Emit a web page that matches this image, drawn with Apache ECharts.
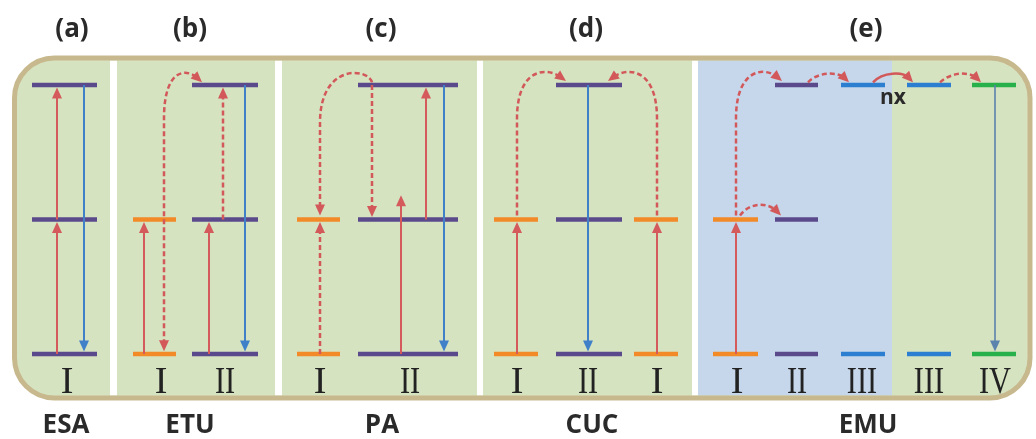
<!DOCTYPE html>
<html><head><meta charset="utf-8">
<script src="https://cdn.jsdelivr.net/npm/echarts@6/dist/echarts.min.js"></script>
<style>html,body{margin:0;padding:0;background:#fff}#c{width:1036px;height:439px}</style>
</head><body><div id="c"></div>
<script>
// ---------------- data ----------------
const panelTitles = ['(a)', '(b)', '(c)', '(d)', '(e)'];
const panelCenters = [72, 190, 381, 586, 866];
const mechanisms = ['ESA', 'ETU', 'PA', 'CUC', 'EMU'];
const mechanismCenters = [66, 190, 382, 592, 868];
const ionLabels = ['I', 'I', 'II', 'I', 'II', 'I', 'II', 'I', 'I', 'II', 'III', 'III', 'IV'];
const ionCenters = [67, 161, 225, 320, 410, 517, 588, 657, 737, 797, 862, 929, 995];
// energy levels: [xStart, xEnd, energy, species]
const levels = [
  [32, 97, 0, 'P'], [32, 97, 1, 'P'], [32, 97, 2, 'P'],
  [133, 176, 0, 'O'], [133, 176, 1, 'O'], [192, 258, 0, 'P'], [192, 258, 1, 'P'], [192, 258, 2, 'P'],
  [297, 340, 0, 'O'], [297, 340, 1, 'O'], [358, 458, 0, 'P'], [358, 458, 1, 'P'], [358, 458, 2, 'P'],
  [494, 538, 0, 'O'], [494, 538, 1, 'O'], [556, 622, 0, 'P'], [556, 622, 1, 'P'], [556, 622, 2, 'P'],
  [634, 678, 0, 'O'], [634, 678, 1, 'O'],
  [713, 758, 0, 'O'], [713, 758, 1, 'O'], [775, 818, 0, 'P'], [775, 818, 1, 'P'], [775, 818, 2, 'P'],
  [841, 885, 0, 'B'], [841, 885, 2, 'B'], [907, 951, 0, 'B'], [907, 951, 2, 'B'],
  [972, 1016, 0, 'G'], [972, 1016, 2, 'G']
];
// vertical transitions: [x, fromEnergy, toEnergy, kind]
const transitions = [
  [57, 0, 1, 'abs'], [57, 1, 2, 'abs'], [84, 2, 0, 'em'],
  [144, 0, 1, 'abs'], [209, 0, 1, 'abs'], [223, 1, 2, 'et'], [245, 2, 0, 'em'],
  [320, 0, 1, 'et'], [372, 2, 1, 'et'], [401, 0, 1.2, 'abs'], [426, 1, 2, 'abs'], [444, 2, 0, 'em'],
  [517, 0, 1, 'abs'], [657, 0, 1, 'abs'], [588, 2, 0, 'em'],
  [736, 0, 1, 'abs'], [995, 2, 0, 'em2']
];
// curved energy transfers: [kind, arrowAtStart, points(start, lineTo, ctrl1, ctrl2, curveEnd, lineEnd)]
const transfers = [
  ['et', true, [[164, 0.02], [164, 1.75], [164, 2.12], [186, 2.13], [202, 2.02], [202, 2.02]]],
  ['et', false, [[372, 2.02], [372, 2.02], [368, 2.13], [320, 2.16], [320, 1.72], [320, 1.03]]],
  ['et', false, [[517, 1.03], [517, 1.75], [517, 2.12], [546, 2.14], [566, 2.03], [566, 2.03]]],
  ['et', false, [[657, 1.03], [657, 1.75], [657, 2.12], [628, 2.14], [608, 2.03], [608, 2.03]]],
  ['et', false, [[736, 1.03], [736, 1.75], [736, 2.12], [764, 2.14], [782, 2.03], [782, 2.03]]],
  ['et', false, [[740, 1.03], [740, 1.03], [750, 1.13], [768, 1.13], [781, 1.03], [781, 1.03]]],
  ['et', false, [[808, 2.02], [808, 2.02], [818, 2.1], [838, 2.1], [849, 2.02], [849, 2.02]]],
  ['tr', false, [[873, 2.02], [873, 2.02], [883, 2.1], [903, 2.1], [913, 2.02], [913, 2.02]]],
  ['et', false, [[940, 2.02], [940, 2.02], [952, 2.1], [970, 2.1], [981, 2.02], [981, 2.02]]]
];
const annotations = [['nx', 893, 1.9]];

// ---------------- layout / style ----------------
const TITLE_E = 2.41, ION_E = -0.215, MECH_E = -0.53;
const levelColors = { P: '#5a4a8c', O: '#f28a28', B: '#2c7fd0', G: '#28b04a' };
const kindStyle = {
  abs: { c: '#d45a5c', w: 2, dash: null },
  em: { c: '#3f80c9', w: 2, dash: null },
  em2: { c: '#5b83ad', w: 1.6, dash: null },
  et: { c: '#d2585a', w: 2.5, dash: [5, 3] },
  tr: { c: '#d2585a', w: 2.5, dash: null }
};
const HEAD_L = 11, HEAD_W = 5;

function head(tip, dir, color) {
  const bx = tip[0] - dir[0] * HEAD_L, by = tip[1] - dir[1] * HEAD_L;
  const nx = -dir[1], ny = dir[0];
  return { type: 'polygon', shape: { points: [tip, [bx + nx * HEAD_W, by + ny * HEAD_W], [bx - nx * HEAD_W, by - ny * HEAD_W]] }, style: { fill: color } };
}
function unit(a, b) { const dx = b[0] - a[0], dy = b[1] - a[1]; const d = Math.hypot(dx, dy) || 1; return [dx / d, dy / d]; }

function renderLevel(params, api) {
  const l = levels[params.dataIndex];
  const a = api.coord([l[0], l[2]]), b = api.coord([l[1], l[2]]);
  return { type: 'rect', shape: { x: a[0], y: a[1] - 2.2, width: b[0] - a[0], height: 4.4 }, style: { fill: levelColors[l[3]] } };
}
function renderTransition(params, api) {
  const t = transitions[params.dataIndex];
  const s = kindStyle[t[3]];
  const p0 = api.coord([t[0], t[1]]), p1 = api.coord([t[0], t[2]]);
  const dy = Math.sign(p1[1] - p0[1]);
  const tip = [p1[0], p1[1] - dy * 2.6];
  const le = [tip[0], tip[1] - dy * 7];
  return { type: 'group', children: [
    { type: 'line', shape: { x1: p0[0], y1: p0[1], x2: le[0], y2: le[1] }, style: { stroke: s.c, lineWidth: s.w, lineDash: s.dash } },
    head(tip, [0, dy], s.c)
  ] };
}
function renderTransfer(params, api) {
  const t = transfers[params.dataIndex];
  const s = kindStyle[t[0]];
  const p = t[2].map(q => api.coord(q));
  const children = [];
  let start = p[0].slice(), endCurve = p[4].slice(), endLine = p[5].slice();
  if (t[1]) {
    const d = unit(p[1], p[0]);
    children.push(head(p[0], d, s.c));
    start = [p[0][0] - d[0] * 7, p[0][1] - d[1] * 7];
  }
  const straightEnd = Math.hypot(p[5][0] - p[4][0], p[5][1] - p[4][1]) > 0.5;
  let d;
  if (straightEnd) {
    d = unit(p[4], p[5]);
    endLine = [p[5][0] - d[0] * 7, p[5][1] - d[1] * 7];
    children.push(head(p[5], d, s.c));
  } else {
    d = unit(p[3], p[4]);
    endCurve = [p[4][0] - d[0] * 6, p[4][1] - d[1] * 6];
    endLine = endCurve;
    children.push(head(p[4], d, s.c));
  }
  const f = v => v[0].toFixed(2) + ' ' + v[1].toFixed(2);
  const pathData = 'M' + f(start) + ' L' + f(p[1]) + ' C' + f(p[2]) + ' ' + f(p[3]) + ' ' + f(endCurve) + ' L' + f(endLine);
  children.unshift({ type: 'path', shape: { pathData: pathData }, style: { stroke: s.c, lineWidth: s.w, lineDash: s.dash, fill: null } });
  return { type: 'group', children: children };
}
function textItem(pos, text, font, extra) {
  return Object.assign({ type: 'text', x: pos[0], y: pos[1], style: Object.assign({ text: text, fill: '#2a2a2a', align: 'center', verticalAlign: 'middle' }, font) }, extra || {});
}
function renderTitle(params, api) {
  const i = params.dataIndex;
  return textItem(api.coord([panelCenters[i], TITLE_E]), panelTitles[i], { fontFamily: 'Open Sans', fontWeight: 'bold', fontSize: 26 });
}
function renderMech(params, api) {
  const i = params.dataIndex;
  return textItem(api.coord([mechanismCenters[i], MECH_E]), mechanisms[i], { fontFamily: 'Open Sans', fontWeight: 'bold', fontSize: 26 });
}
function renderIon(params, api) {
  const i = params.dataIndex;
  const pos = api.coord([ionCenters[i], ION_E]);
  const sx = ionLabels[i].length > 1 ? 0.8 : 1;
  return textItem(pos, ionLabels[i], { fontFamily: 'Liberation Serif', fontSize: 38, fill: '#222222' }, { scaleX: sx, originX: 0, originY: 0 });
}
function renderNote(params, api) {
  const a = annotations[params.dataIndex];
  return textItem(api.coord([a[1], a[2]]), a[0], { fontFamily: 'Open Sans', fontWeight: 'bold', fontSize: 21 });
}

const idx = arr => arr.map((_, i) => [i, 0]);
const chart = echarts.init(document.getElementById('c'), null, { renderer: 'canvas' });
chart.setOption({
  animation: false,
  backgroundColor: '#ffffff',
  grid: { left: 0, right: 0, top: 85, bottom: 85 },
  xAxis: { type: 'value', min: 0, max: 1036, show: false },
  yAxis: { type: 'value', min: 0, max: 2, show: false },
  graphic: [
    { type: 'rect', z: 0, shape: { x: 14.5, y: 58, width: 1015.5, height: 340, r: 40 }, style: { fill: '#d6e3c1' } },
    { type: 'rect', z: 0, shape: { x: 698, y: 60.5, width: 194, height: 335 }, style: { fill: '#c6d7eb' } },
    { type: 'rect', z: 0, shape: { x: 110, y: 60.5, width: 7, height: 335 }, style: { fill: '#ffffff' } },
    { type: 'rect', z: 0, shape: { x: 275, y: 60.5, width: 7, height: 335 }, style: { fill: '#ffffff' } },
    { type: 'rect', z: 0, shape: { x: 477, y: 60.5, width: 6, height: 335 }, style: { fill: '#ffffff' } },
    { type: 'rect', z: 0, shape: { x: 692, y: 60.5, width: 6, height: 335 }, style: { fill: '#ffffff' } },
    { type: 'rect', z: 0, shape: { x: 14.5, y: 58, width: 1015.5, height: 340, r: 40 }, style: { fill: null, stroke: '#c7b98d', lineWidth: 5 } }
  ],
  series: [
    { type: 'custom', renderItem: renderLevel, data: idx(levels), clip: false, z: 2 },
    { type: 'custom', renderItem: renderTransition, data: idx(transitions), clip: false, z: 3 },
    { type: 'custom', renderItem: renderTransfer, data: idx(transfers), clip: false, z: 3 },
    { type: 'custom', renderItem: renderTitle, data: idx(panelTitles), clip: false, z: 4 },
    { type: 'custom', renderItem: renderMech, data: idx(mechanisms), clip: false, z: 4 },
    { type: 'custom', renderItem: renderIon, data: idx(ionLabels), clip: false, z: 4 },
    { type: 'custom', renderItem: renderNote, data: idx(annotations), clip: false, z: 4 }
  ]
});
</script></body></html>
